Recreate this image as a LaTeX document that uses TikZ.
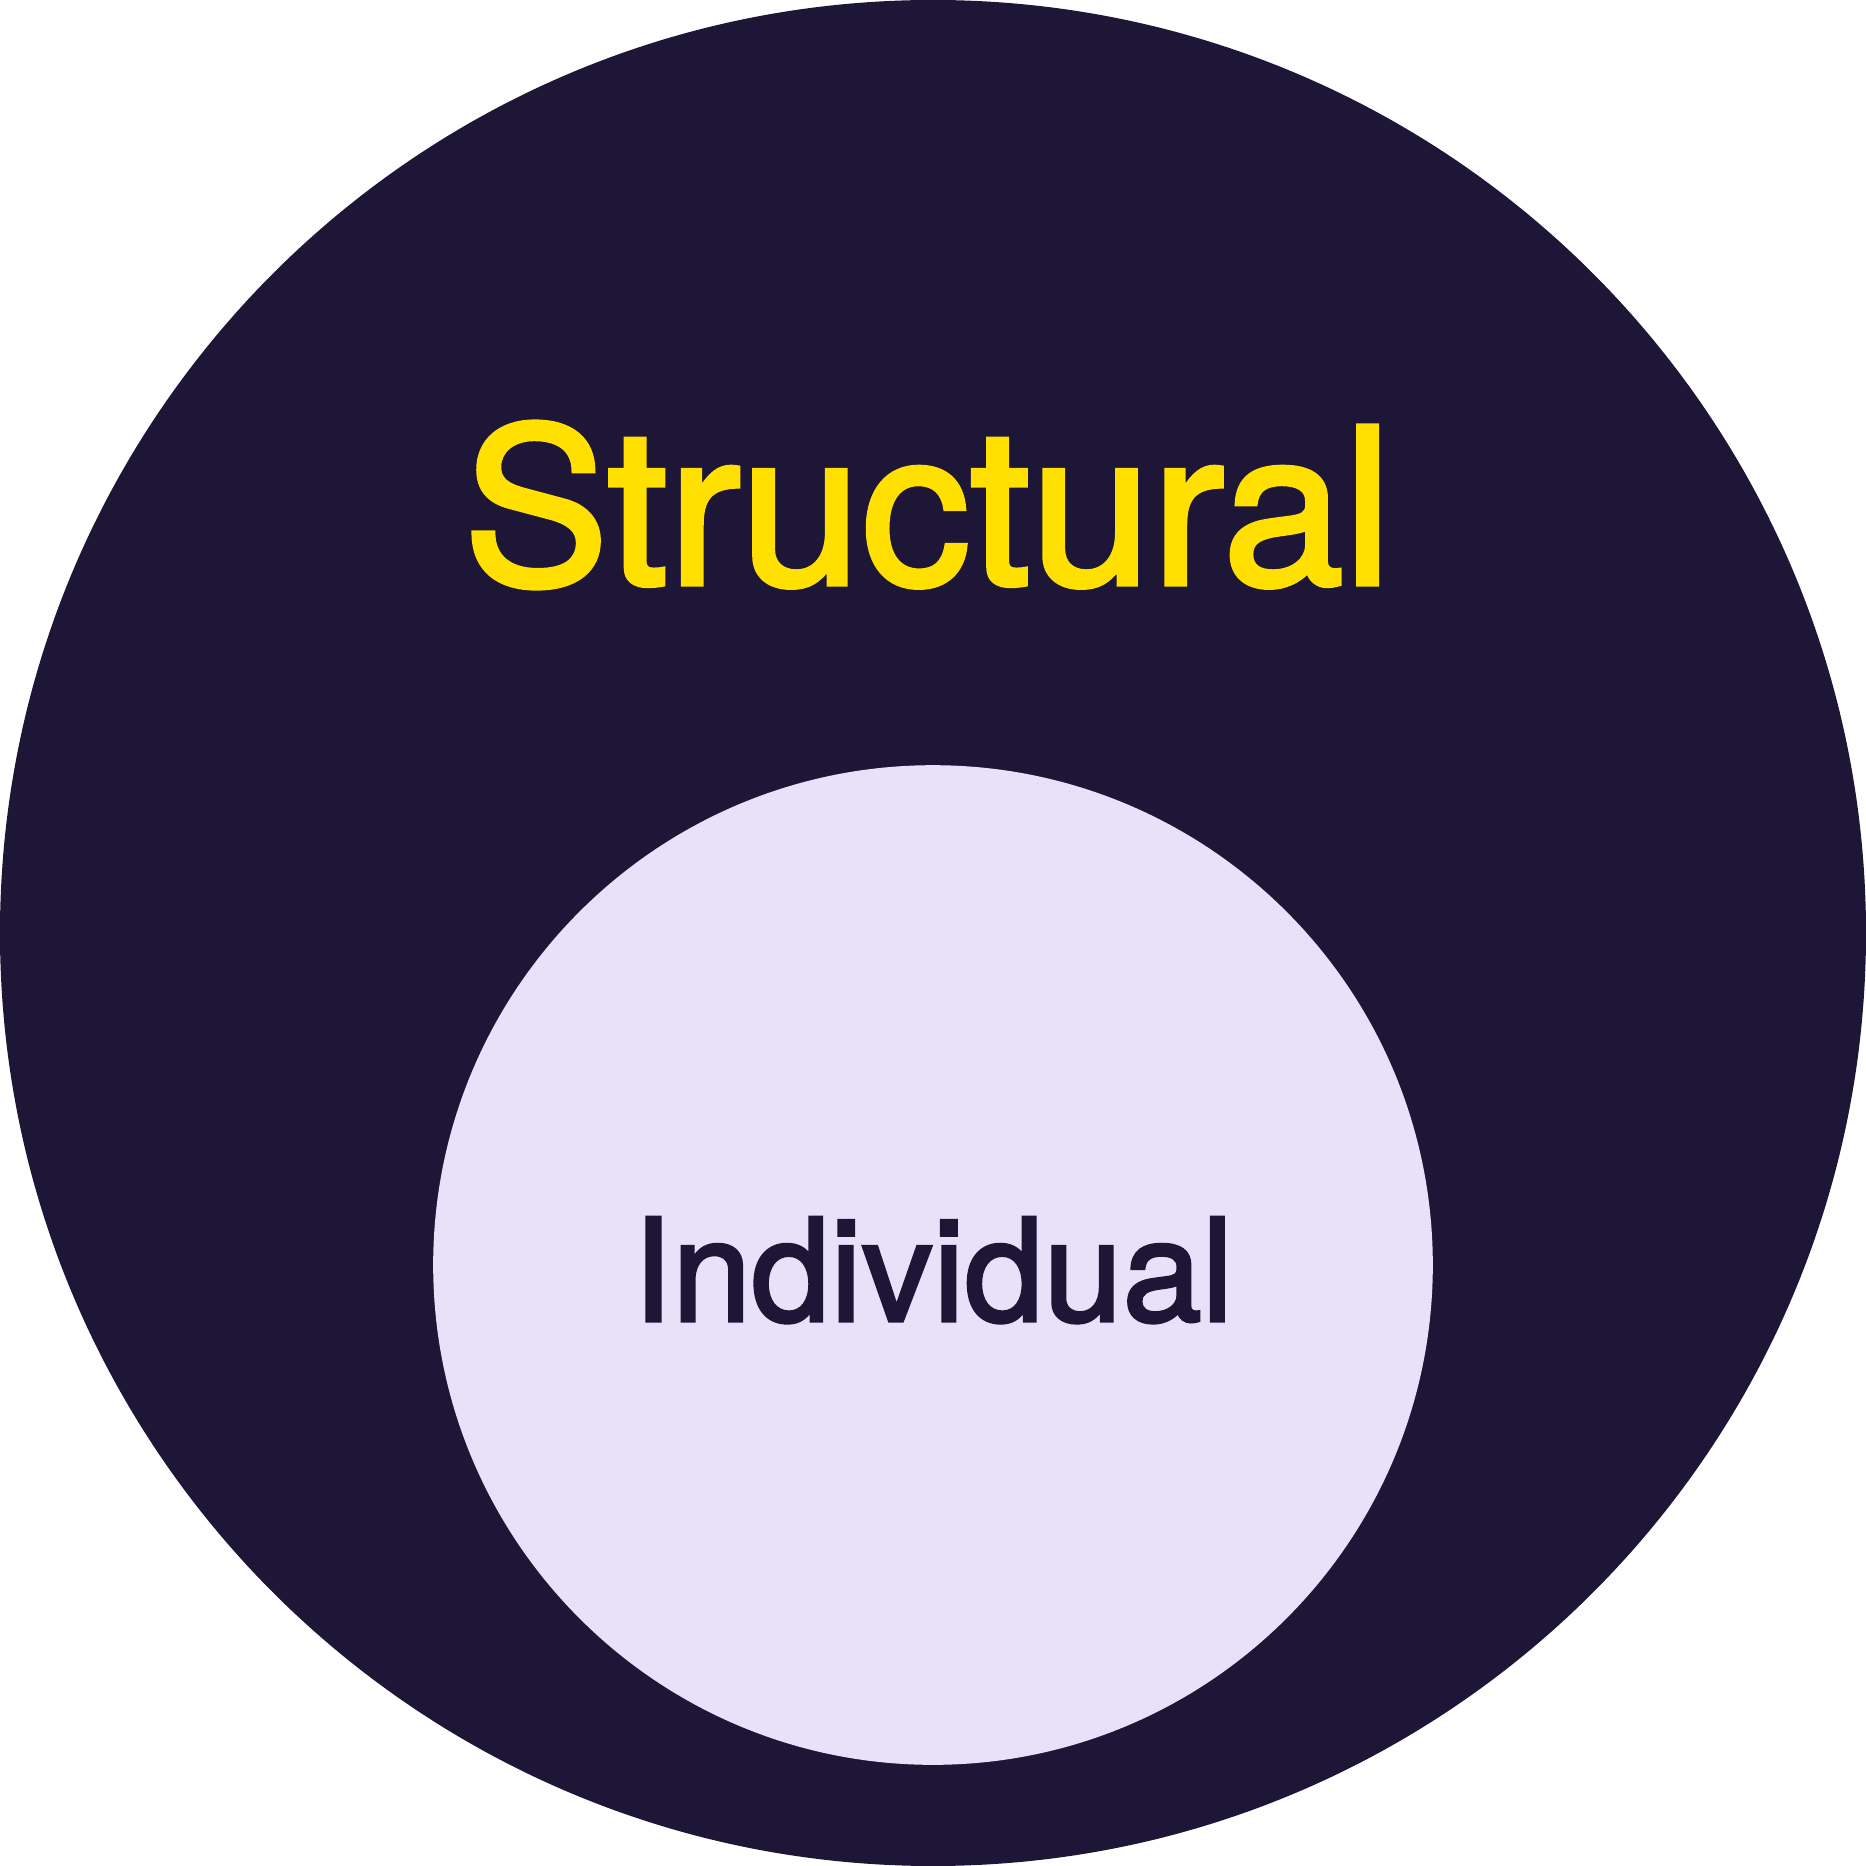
\documentclass[tikz,border=0pt]{standalone}
\usepackage{fontspec}
\setmainfont{TeX Gyre Heros}
\newfontfamily\heavysans[FakeBold=2.2]{TeX Gyre Heros}
\usepackage{tikz}
\usepackage{xcolor}
\definecolor{outerdark}{HTML}{1D1636}
\definecolor{innerlav}{HTML}{E9E0FA}
\definecolor{titleyel}{HTML}{FFE000}

\begin{document}
\begin{tikzpicture}[
    ring/.style={draw=none},
    label/.style={anchor=base, inner sep=0pt}
  ]
  \useasboundingbox (-7.84,-7.84) rectangle (7.84,7.84);

  % Outer and inner circles
  \coordinate (O) at (0,0);
  \coordinate (I) at (0,-2.79);
  \fill[ring, outerdark] (O) circle (7.84);
  \fill[ring, innerlav] (I) circle (4.20);

  % Labels
  \node[label, titleyel, font=\heavysans\fontsize{52}{60}\selectfont] (struct) at (-0.045,2.93) {Structural};
  \node[label, outerdark, font=\heavysans\fontsize{34}{40}\selectfont] (indiv) at (0,-3.26) {Individual};
\end{tikzpicture}
\end{document}
